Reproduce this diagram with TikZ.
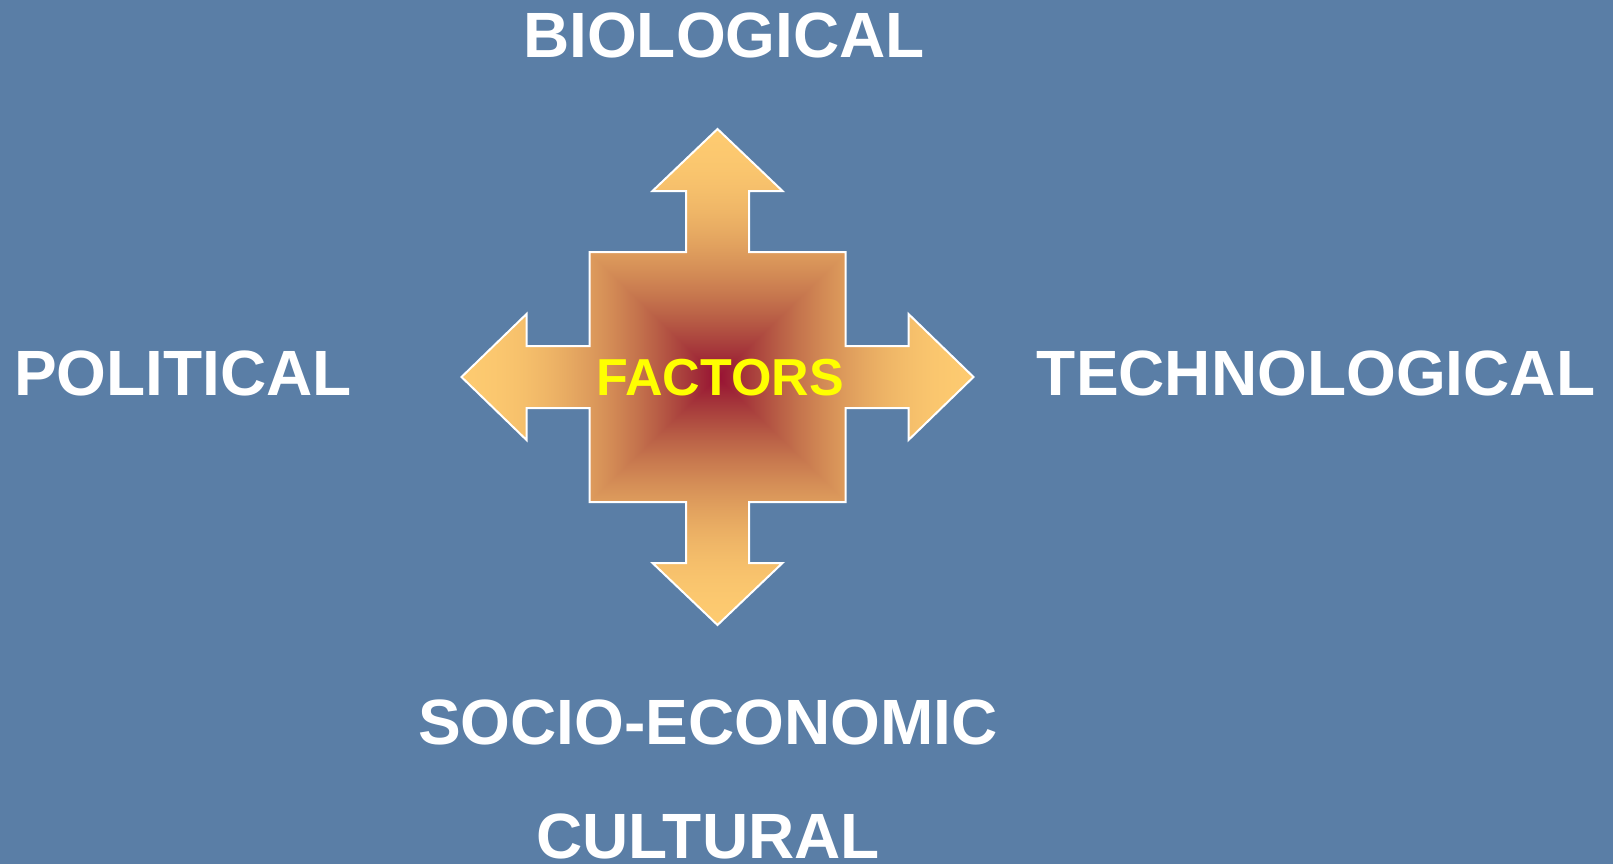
\documentclass[tikz,border=0pt]{standalone}
\usepackage{fontspec}
\setmainfont{Liberation Sans}
\usepackage{xcolor}
\usepackage{tikz}
\usetikzlibrary{calc,positioning}

\definecolor{slideblue}{RGB}{90,126,166}
\definecolor{factyellow}{RGB}{255,255,0}

% square gradient from the centre: dark red -> light orange
\pgfdeclarefunctionalshading{factorshade}{\pgfpoint{0bp}{0bp}}{\pgfpoint{100bp}{100bp}}{}{
  50 sub abs exch 50 sub abs 2 copy lt {exch} if pop
  25 div dup 1 gt {pop 1} if dup 2 exch sub mul
  dup 1.3 exp 0.396 mul 0.596 add exch dup 0.729 mul 0.063 add exch 1.4 exp 0.235 mul 0.204 add
}

\tikzset{
  label/.style={text=white,font=\bfseries\fontsize{64}{64}\selectfont,inner sep=0pt},
  centre/.style={text=factyellow,font=\bfseries\fontsize{52}{52}\selectfont,inner sep=0pt}
}

\begin{document}
\begin{tikzpicture}[x=1pt,y=-1pt]
  \fill[slideblue] (0,0) rectangle (1613,864);
  \useasboundingbox (0,0) rectangle (1613,864);
  % the four-way arrow
  \begin{scope}[shift={(717.5,377)}]
    \shadedraw[shading=factorshade,draw=white,line width=2pt,line join=miter]
      (0,-248) -- (65,-186) -- (31.5,-186) -- (31.5,-125) -- (128,-125) -- (128,-31)
      -- (191,-31) -- (191,-63) -- (256,0) -- (191,63) -- (191,31) -- (128,31)
      -- (128,125) -- (31.5,125) -- (31.5,186) -- (65,186) -- (0,248) -- (-65,186)
      -- (-31.5,186) -- (-31.5,125) -- (-128,125) -- (-128,31) -- (-191,31) -- (-191,63)
      -- (-256,0) -- (-191,-63) -- (-191,-31) -- (-128,-31) -- (-128,-125)
      -- (-31.5,-125) -- (-31.5,-186) -- (-65,-186) -- cycle;
  \end{scope}
  \node[centre] (factors) at (720,378) {FACTORS};
  % the labels round it
  \node[label] (bio) at (724,35) {BIOLOGICAL};
  \node[label] (pol) at (183,373) {POLITICAL};
  \node[label] (tech) at (1316,373) {TECHNOLOGICAL};
  \node[label] (socio) at (708,722) {SOCIO-ECONOMIC};
  \node[label] (cult) at (708,836) {CULTURAL};
\end{tikzpicture}
\end{document}
